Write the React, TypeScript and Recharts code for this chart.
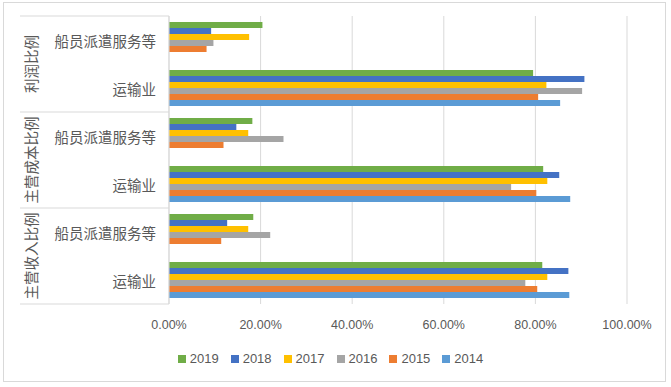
import { Bar, BarChart, CartesianGrid, XAxis, YAxis } from "recharts";

const groups = ["利润比例", "主营成本比例", "主营收入比例"];
const subCategories = ["船员派遣服务等", "运输业"];

// values in percent, listed top to bottom
const y2019 = [20.4, 79.5, 18.2, 81.7, 18.4, 81.5];
const y2018 = [9.2, 90.7, 14.7, 85.2, 12.7, 87.2];
const y2017 = [17.5, 82.4, 17.3, 82.6, 17.3, 82.6];
const y2016 = [9.7, 90.2, 25.0, 74.7, 22.1, 77.8];
const y2015 = [8.2, 80.6, 11.9, 80.2, 11.4, 80.4];
const y2014 = [0, 85.4, 0, 87.6, 0, 87.4];

const xTicks = [0, 20, 40, 60, 80, 100];

const series = [
  { key: "2019", values: y2019, color: "#70AD47" },
  { key: "2018", values: y2018, color: "#4472C4" },
  { key: "2017", values: y2017, color: "#FFC000" },
  { key: "2016", values: y2016, color: "#A5A5A5" },
  { key: "2015", values: y2015, color: "#ED7D31" },
  { key: "2014", values: y2014, color: "#5B9BD5" },
];

const data = groups.flatMap((g, gi) =>
  subCategories.map((s, si) => {
    const i = gi * subCategories.length + si;
    const row: Record<string, string | number> = { id: `${g}-${s}`, group: g, name: s };
    series.forEach((se) => {
      row[se.key] = se.values[i];
    });
    return row;
  })
);

const W = 661;
const H = 378;
const M = { top: 13, right: 38, left: 0, bottom: 0 };
const Y_W = 165;
const X_H = 77;
const PLOT_H = H - M.top - M.bottom - X_H;
const BAND = PLOT_H / data.length;
const TEXT = "#595959";
const LINE = "#d9d9d9";
const CJK = '"Noto Sans CJK SC", "Microsoft YaHei", sans-serif';
const NUM = '"Liberation Sans", Arial, sans-serif';

const CategoryTick = (props: any) => {
  const { x, y, payload, index } = props;
  const row = data[index];
  const axisRight = Y_W;
  const lineLeft = 16;
  const isFirst = index % subCategories.length === 0;
  const isLast = index === data.length - 1;
  const groupCenter = y - BAND / 2 + (BAND * subCategories.length) / 2;
  return (
    <g>
      <text
        x={x - 5}
        y={y}
        textAnchor="end"
        dominantBaseline="central"
        fill={TEXT}
        fontSize={14.5}
        fontFamily={CJK}
      >
        {row ? row.name : payload.value}
      </text>
      {isFirst && (
        <>
          <line x1={lineLeft} x2={axisRight} y1={y - BAND / 2} y2={y - BAND / 2} stroke={LINE} />
          <text
            x={26}
            y={groupCenter}
            transform={`rotate(-90 26 ${groupCenter})`}
            textAnchor="middle"
            dominantBaseline="central"
            fill={TEXT}
            fontSize={14.5}
            fontFamily={CJK}
          >
            {row.group}
          </text>
        </>
      )}
      {isLast && (
        <line x1={lineLeft} x2={axisRight} y1={y + BAND / 2} y2={y + BAND / 2} stroke={LINE} />
      )}
    </g>
  );
};

const LegendContent = () => (
  <div
    style={{
      position: "absolute",
      top: 348,
      left: 4,
      width: W - 4,
      display: "flex",
      justifyContent: "center",
      fontFamily: NUM,
      fontSize: 13,
      color: TEXT,
    }}
  >
    {series.map((s) => (
      <div key={s.key} style={{ display: "flex", alignItems: "center", marginRight: 12 }}>
        <span style={{ width: 8, height: 8, background: s.color, marginRight: 4 }} />
        <span>{s.key}</span>
      </div>
    ))}
  </div>
);

export default function App() {
  return (
    <div
      style={{
        position: "absolute",
        left: 3,
        top: 2,
        width: W,
        height: H,
        border: `1px solid ${LINE}`,
        background: "#fff",
      }}
    >
      <BarChart
        width={W}
        height={H}
        data={data}
        layout="vertical"
        margin={M}
        barCategoryGap="12.5%"
        barGap={0}
      >
        <CartesianGrid horizontal={false} stroke={LINE} />
        <XAxis
          type="number"
          domain={[0, 100]}
          ticks={xTicks}
          axisLine={false}
          tickLine={false}
          height={X_H}
          tick={{ fill: TEXT, fontSize: 12.5, fontFamily: NUM, dy: 8 }}
          tickFormatter={(v: number) => `${v.toFixed(2)}%`}
        />
        <YAxis
          type="category"
          dataKey="id"
          width={Y_W}
          axisLine={{ stroke: LINE }}
          tickLine={false}
          tick={<CategoryTick />}
          interval={0}
        />
        {series.map((s) => (
          <Bar key={s.key} dataKey={s.key} fill={s.color} isAnimationActive={false} />
        ))}
      </BarChart>
      <LegendContent />
    </div>
  );
}
